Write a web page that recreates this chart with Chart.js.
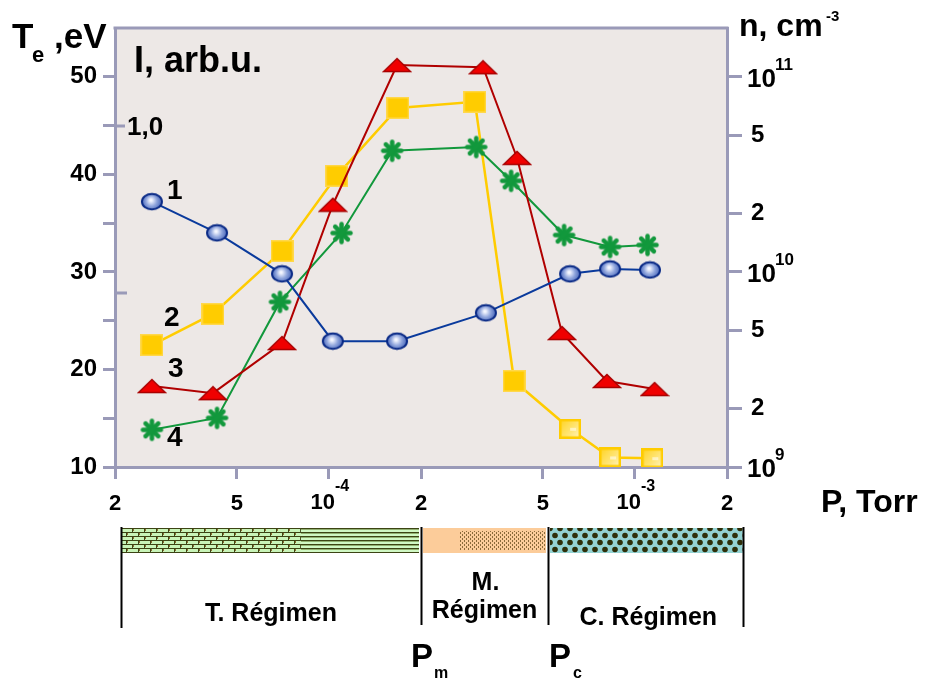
<!DOCTYPE html>
<html>
<head>
<meta charset="utf-8">
<script src="https://cdn.jsdelivr.net/npm/chart.js@4.4.1/dist/chart.umd.min.js"></script>
<style>
  html, body { margin: 0; padding: 0; background: #fff; }
  #wrap { width: 936px; height: 681px; position: relative; }
</style>
</head>
<body>
<div id="wrap"><canvas id="plasmaChart" width="936" height="681"></canvas></div>
<script>
// axis ticks
const pressureTicks = [2e-5, 5e-5, 1e-4, 2e-4, 5e-4, 1e-3, 2e-3];
const teTicks = [10, 15, 20, 25, 30, 35, 40, 45, 50];
const densityTicks = [1e9, 2e9, 5e9, 1e10, 2e10, 5e10, 1e11];

// curve 1: electron temperature, eV
const pressure1 = [2.64e-5, 4.31e-5, 7.03e-5, 1.03e-4, 1.67e-4, 3.26e-4, 6.14e-4, 8.3e-4, 1.12e-3];
const te1 = [37.2, 34.0, 29.8, 22.9, 22.9, 25.8, 29.8, 30.3, 30.2];

// curve 2: density, cm^-3
const pressure2 = [2.64e-5, 4.18e-5, 7.03e-5, 1.06e-4, 1.68e-4, 3.0e-4, 4.03e-4, 6.14e-4, 8.3e-4, 1.14e-3];
const n2 = [4.22e9, 6.09e9, 1.28e10, 3.11e10, 6.93e10, 7.45e10, 2.76e9, 1.57e9, 1.12e9, 1.11e9];

// curve 3: density, cm^-3
const pressure3 = [2.64e-5, 4.18e-5, 7.03e-5, 1.03e-4, 1.67e-4, 3.19e-4, 4.12e-4, 5.78e-4, 8.1e-4, 1.16e-3];
const n3 = [2.60e9, 2.39e9, 4.32e9, 2.21e10, 1.15e11, 1.12e11, 3.84e10, 4.86e9, 2.76e9, 2.51e9];

// curve 4: intensity, arb.u.
const pressure4 = [2.64e-5, 4.31e-5, 6.92e-5, 1.10e-4, 1.61e-4, 3.03e-4, 3.94e-4, 5.87e-4, 8.3e-4, 1.10e-3];
const i4 = [0.109, 0.144, 0.484, 0.686, 0.927, 0.938, 0.839, 0.680, 0.645, 0.651];

// discharge regimes
const regimeNames = [['T. Régimen'], ['M.', 'Régimen'], ['C. Régimen']];
const regimeBounds = [2.09e-5, 2.0e-4, 5.2e-4, 2.25e-3];

const FONT = "'Liberation Sans', Arial, sans-serif";
const AXIS_COLOR = '#9a9ab8';

function toPoints(xs, ys) {
  return xs.map((x, i) => ({ x: x, y: ys[i] }));
}

function makeCanvas(w, h, draw) {
  const c = document.createElement('canvas');
  c.width = w; c.height = h;
  draw(c.getContext('2d'));
  return c;
}

// markers
const circleMark = makeCanvas(24, 19, g => {
  const grad = g.createRadialGradient(11, 8, 1, 12, 9.5, 11);
  grad.addColorStop(0, '#f4f6ff');
  grad.addColorStop(0.45, '#8ea4dc');
  grad.addColorStop(1, '#3a58b0');
  g.beginPath();
  g.ellipse(12, 9.5, 10, 7.8, 0, 0, Math.PI * 2);
  g.fillStyle = grad;
  g.fill();
  g.lineWidth = 2;
  g.strokeStyle = '#0a2a86';
  g.stroke();
});

const squareMark = makeCanvas(23, 22, g => {
  g.fillStyle = '#ffcc00';
  g.fillRect(0, 0, 23, 22);
  g.strokeStyle = '#ffd84c';
  g.lineWidth = 1.5;
  g.strokeRect(0.75, 0.75, 21.5, 20.5);
});

const squareLightMark = makeCanvas(22, 20, g => {
  const grad = g.createLinearGradient(0, 0, 22, 20);
  grad.addColorStop(0, '#ffd21a');
  grad.addColorStop(0.6, '#ffe67a');
  grad.addColorStop(1, '#fff6c8');
  g.fillStyle = grad;
  g.fillRect(0, 0, 22, 20);
  g.fillStyle = 'rgba(255,255,255,0.55)';
  g.fillRect(11, 9, 6, 3);
  g.strokeStyle = '#ffcc00';
  g.lineWidth = 2.5;
  g.strokeRect(1.25, 1.25, 19.5, 17.5);
});

const triangleMark = makeCanvas(30, 16, g => {
  g.beginPath();
  g.moveTo(15, 1.5);
  g.lineTo(28.5, 14.5);
  g.lineTo(1.5, 14.5);
  g.closePath();
  g.fillStyle = '#f00000';
  g.fill();
  g.lineWidth = 1.5;
  g.strokeStyle = '#a80000';
  g.stroke();
});

const starMark = makeCanvas(25, 25, g => {
  g.strokeStyle = '#12983c';
  g.lineWidth = 4.5;
  g.lineCap = 'round';
  for (let k = 0; k < 4; k++) {
    const a = k * Math.PI / 4;
    g.beginPath();
    g.moveTo(12.5 - 9 * Math.cos(a), 12.5 - 9 * Math.sin(a));
    g.lineTo(12.5 + 9 * Math.cos(a), 12.5 + 9 * Math.sin(a));
    g.stroke();
  }
});

// fill patterns for regime bars
const brickTile = makeCanvas(12, 8, g => {
  g.fillStyle = '#c8f4b8'; g.fillRect(0, 0, 12, 8);
  g.fillStyle = '#3c4414';
  g.fillRect(0, 0, 12, 1); g.fillRect(0, 4, 12, 1);
  g.fillRect(0, 1, 1, 3); g.fillRect(6, 5, 1, 3);
  g.fillStyle = '#8a6a30';
  g.fillRect(1, 1, 1, 2); g.fillRect(7, 5, 1, 2);
});
const stripeTile = makeCanvas(4, 4, g => {
  g.fillStyle = '#d0f8c4'; g.fillRect(0, 0, 4, 4);
  g.fillStyle = '#3c4414'; g.fillRect(0, 0, 4, 1);
  g.fillStyle = '#90b070'; g.fillRect(0, 1, 4, 1);
});
const peachTile = makeCanvas(4, 4, g => {
  g.fillStyle = '#fccc9a'; g.fillRect(0, 0, 4, 4);
  g.fillStyle = '#8a6a3a'; g.fillRect(0, 0, 1, 2); g.fillRect(2, 2, 1, 2);
});
const dotTile = makeCanvas(10, 14, g => {
  g.fillStyle = '#94d2d2'; g.fillRect(0, 0, 10, 14);
  g.fillStyle = '#2e2e08';
  g.beginPath(); g.arc(5, 3.5, 2.8, 0, Math.PI * 2); g.fill();
  g.beginPath(); g.arc(0, 10.5, 2.8, 0, Math.PI * 2); g.fill();
  g.beginPath(); g.arc(10, 10.5, 2.8, 0, Math.PI * 2); g.fill();
});

function isPow10(v) {
  const e = Math.log10(v);
  return Math.abs(e - Math.round(e)) < 1e-9;
}

function mantissa(v) {
  return String(Math.round(v / Math.pow(10, Math.floor(Math.log10(v) + 1e-9))));
}

function text(ctx, s, x, y, size, align, baseline) {
  ctx.font = 'bold ' + size + 'px ' + FONT;
  ctx.textAlign = align || 'left';
  ctx.textBaseline = baseline || 'alphabetic';
  ctx.fillText(s, x, y);
}

const decorPlugin = {
  id: 'decor',
  beforeDraw(chart) {
    const { ctx, chartArea: a } = chart;
    ctx.save();
    ctx.fillStyle = '#ede8e6';
    ctx.fillRect(a.left, a.top, a.right - a.left, a.bottom - a.top);
    ctx.restore();
  },
  afterDraw(chart) {
    const { ctx, chartArea: a, scales } = chart;
    const xs = scales.x, yN = scales.yN, yI = scales.yI;
    ctx.save();
    ctx.fillStyle = '#000';

    // top frame line
    ctx.strokeStyle = AXIS_COLOR;
    ctx.lineWidth = 3;
    ctx.beginPath();
    ctx.moveTo(a.left - 1.5, a.top);
    ctx.lineTo(a.right + 1.5, a.top);
    ctx.stroke();

    // intensity axis marks
    const y10 = yI.getPixelForValue(1.0);
    const y05 = yI.getPixelForValue(0.51);
    ctx.beginPath();
    ctx.moveTo(a.left, y10); ctx.lineTo(a.left + 10, y10);
    ctx.moveTo(a.left, y05); ctx.lineTo(a.left + 12, y05);
    ctx.stroke();
    text(ctx, '1,0', a.left + 12, y10 + 9, 26);

    // power-of-ten labels on the pressure axis
    pressureTicks.filter(isPow10).forEach(v => {
      const x = xs.getPixelForValue(v);
      text(ctx, '10', x + 6, a.bottom + 42, 22, 'right');
      text(ctx, String(Math.round(Math.log10(v))), x + 6, a.bottom + 24, 16, 'left');
    });
    // power-of-ten labels on the density axis
    densityTicks.filter(isPow10).forEach(v => {
      const y = yN.getPixelForValue(v);
      text(ctx, '10', a.right + 20, y + 10, 26, 'left');
      text(ctx, String(Math.round(Math.log10(v))), a.right + 48, y - 7, 17, 'left');
    });

    // axis titles
    text(ctx, 'T', 12, 48, 35);
    text(ctx, 'e', 32, 62, 22);
    text(ctx, ',eV', 54, 48, 35);
    text(ctx, 'I, arb.u.', 134, 72, 36);
    text(ctx, 'n, cm', 739, 36, 32);
    text(ctx, '-3', 826, 21, 15);
    text(ctx, 'P, Torr', 821, 512, 32);

    // curve numbers, placed beside the first point of each curve
    const ds = chart.data.datasets;
    const offsets = [[23, -10], [20, -27], [24, -17], [23, 8]];
    ds.forEach((d, k) => {
      const el = chart.getDatasetMeta(k).data[0];
      text(ctx, String(k + 1), el.x + offsets[k][0], el.y + offsets[k][1], 28, 'center', 'middle');
    });

    // regime bars below the axis
    const bx = regimeBounds.map(v => xs.getPixelForValue(v));
    const barTop = a.bottom + 61, barH = 25;
    const tBrickEnd = bx[0] + (bx[1] - bx[0]) * 0.6;
    ctx.fillStyle = ctx.createPattern(brickTile, 'repeat');
    ctx.fillRect(bx[0] + 1, barTop, tBrickEnd - bx[0] - 1, barH);
    ctx.fillStyle = ctx.createPattern(stripeTile, 'repeat');
    ctx.fillRect(tBrickEnd, barTop, bx[1] - tBrickEnd - 2, barH);
    ctx.fillStyle = '#fccc9a';
    ctx.fillRect(bx[1] + 2, barTop, bx[2] - bx[1] - 4, barH);
    ctx.fillStyle = ctx.createPattern(peachTile, 'repeat');
    const mw = bx[2] - bx[1] - 4;
    ctx.fillRect(bx[1] + 2 + mw * 0.3, barTop + 3, mw * 0.7, barH - 6);
    ctx.fillStyle = ctx.createPattern(dotTile, 'repeat');
    ctx.fillRect(bx[2] + 2, barTop, bx[3] - bx[2] - 2, barH);

    ctx.strokeStyle = '#000';
    ctx.lineWidth = 2;
    const lineEnds = [101, 98, 98, 100];
    bx.forEach((x, k) => {
      ctx.beginPath();
      ctx.moveTo(Math.round(x) + 0.5, barTop - 1);
      ctx.lineTo(Math.round(x) + 0.5, barTop - 1 + lineEnds[k]);
      ctx.stroke();
    });
    ctx.fillStyle = '#000';
    text(ctx, regimeNames[0][0], (bx[0] + bx[1]) / 2, 621, 25, 'center');
    text(ctx, regimeNames[1][0], (bx[1] + bx[2]) / 2 + 1, 590, 25, 'center');
    text(ctx, regimeNames[1][1], (bx[1] + bx[2]) / 2, 618, 25, 'center');
    text(ctx, regimeNames[2][0], (bx[2] + bx[3]) / 2 + 3, 625, 25, 'center');

    // critical pressures
    text(ctx, 'P', bx[1] - 10, 667, 33);
    text(ctx, 'm', bx[1] + 13, 678, 16);
    text(ctx, 'P', bx[2] + 1, 667, 33);
    text(ctx, 'c', bx[2] + 25, 678, 16);
    ctx.restore();
  }
};

const tickFont = { family: FONT, weight: 'bold', size: 24 };

new Chart(document.getElementById('plasmaChart').getContext('2d'), {
  type: 'line',
  data: {
    datasets: [
      {
        label: '1',
        data: toPoints(pressure1, te1),
        yAxisID: 'yTe',
        borderColor: '#0a3a9c',
        borderWidth: 2,
        pointStyle: circleMark,
        order: 1
      },
      {
        label: '2',
        data: toPoints(pressure2, n2),
        yAxisID: 'yN',
        borderColor: '#ffcc00',
        borderWidth: 2.5,
        pointStyle: n2.map((_, i) => i < 7 ? squareMark : squareLightMark),
        order: 4
      },
      {
        label: '3',
        data: toPoints(pressure3, n3),
        yAxisID: 'yN',
        borderColor: '#b00000',
        borderWidth: 2,
        pointStyle: triangleMark,
        order: 2
      },
      {
        label: '4',
        data: toPoints(pressure4, i4),
        yAxisID: 'yI',
        borderColor: '#12983c',
        borderWidth: 2,
        pointStyle: starMark,
        order: 3
      }
    ]
  },
  options: {
    responsive: false,
    animation: false,
    layout: { padding: { top: 28, left: 0, right: 0, bottom: 0 }, autoPadding: false },
    elements: { line: { tension: 0, fill: false } },
    scales: {
      x: {
        type: 'logarithmic',
        min: 2e-5,
        max: 2e-3,
        afterBuildTicks: s => { s.ticks = pressureTicks.map(v => ({ value: v })); },
        afterFit: s => { s.height = 214; },
        ticks: {
          callback: v => isPow10(v) ? '' : mantissa(v),
          font: { family: FONT, weight: 'bold', size: 22 },
          color: '#000',
          maxRotation: 0,
          autoSkip: false,
          padding: 12
        },
        grid: { drawOnChartArea: false, tickLength: 12, color: AXIS_COLOR, lineWidth: 3 },
        border: { color: AXIS_COLOR, width: 3 }
      },
      yTe: {
        type: 'linear',
        position: 'left',
        min: 10,
        max: 55,
        afterBuildTicks: s => { s.ticks = teTicks.map(v => ({ value: v })); },
        afterFit: s => { s.width = 115; },
        ticks: {
          callback: v => v % 10 === 0 ? String(v) : '',
          font: tickFont,
          color: '#000',
          padding: 6
        },
        grid: { drawOnChartArea: false, tickLength: 12, color: AXIS_COLOR, lineWidth: 3 },
        border: { color: AXIS_COLOR, width: 3 }
      },
      yN: {
        type: 'logarithmic',
        position: 'right',
        min: 1e9,
        max: 1.78e11,
        afterBuildTicks: s => { s.ticks = densityTicks.map(v => ({ value: v })); },
        afterFit: s => { s.width = 209; },
        ticks: {
          callback: v => isPow10(v) ? '' : mantissa(v),
          font: tickFont,
          color: '#000',
          padding: 9
        },
        grid: { drawOnChartArea: false, tickLength: 15, color: AXIS_COLOR, lineWidth: 3 },
        border: { color: AXIS_COLOR, width: 3 }
      },
      yI: {
        type: 'linear',
        display: false,
        min: 0,
        max: 1.287
      }
    },
    plugins: {
      legend: { display: false },
      tooltip: { enabled: false }
    }
  },
  plugins: [decorPlugin]
});
</script>
</body>
</html>
